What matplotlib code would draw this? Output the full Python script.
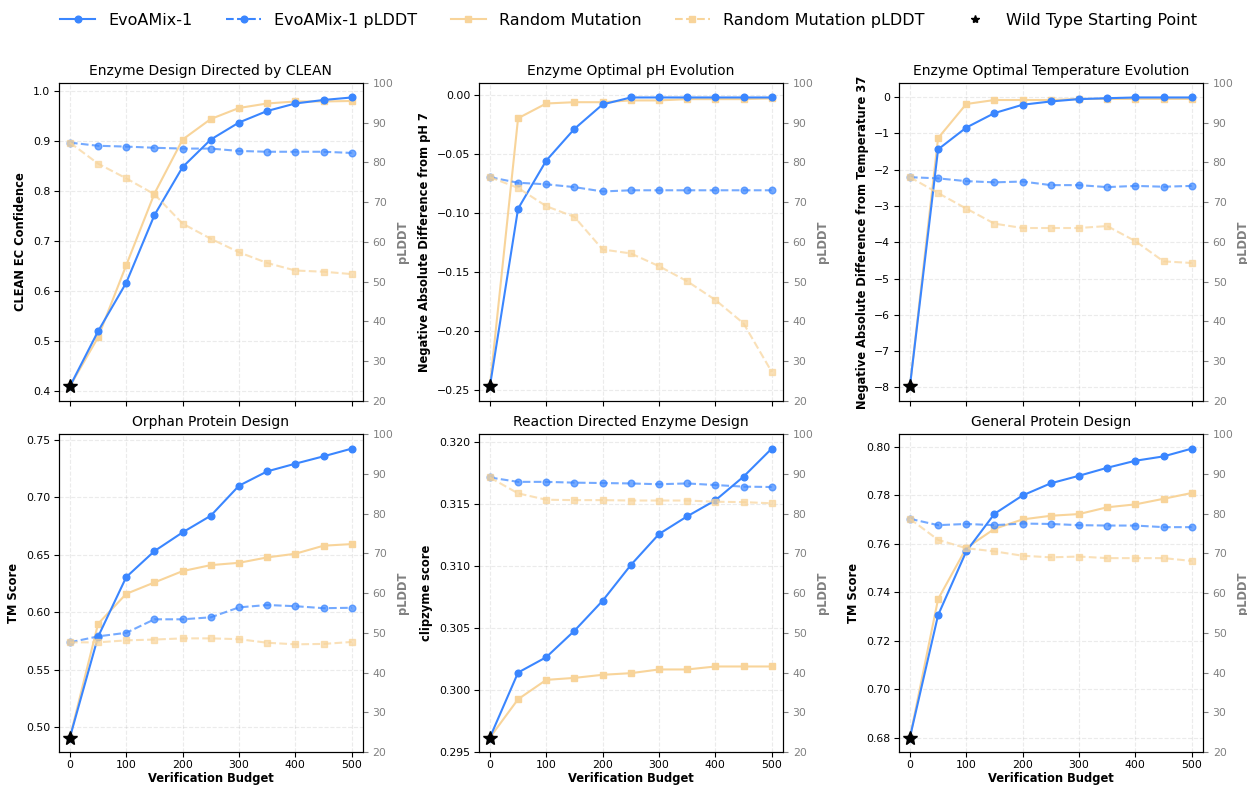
import numpy as np
import matplotlib
matplotlib.use("Agg")
import matplotlib.pyplot as plt
from matplotlib.lines import Line2D

# budget steps shared by every panel
budget = [0, 50, 100, 150, 200, 250, 300, 350, 400, 450, 500]

titles = ["Enzyme Design Directed by CLEAN", "Enzyme Optimal pH Evolution",
          "Enzyme Optimal Temperature Evolution", "Orphan Protein Design",
          "Reaction Directed Enzyme Design", "General Protein Design"]
ylabels = ["CLEAN EC Confidence", "Negative Absolute Difference from pH 7",
           "Negative Absolute Difference from Temperature 37", "TM Score",
           "clipzyme score", "TM Score"]

# EvoAMix-1 score per panel
evo_clean = [0.41, 0.52, 0.617, 0.752, 0.848, 0.903, 0.937, 0.960, 0.975, 0.982, 0.987]
evo_ph = [-0.2466, -0.096, -0.0552, -0.0283, -0.0076, -0.0017, -0.0017, -0.0017, -0.0017, -0.0017, -0.0017]
evo_temp = [-7.97, -1.44, -0.84, -0.44, -0.21, -0.12, -0.055, -0.03, -0.01, -0.01, -0.01]
evo_orphan = [0.491, 0.5787, 0.6307, 0.6533, 0.6696, 0.6841, 0.7102, 0.7227, 0.7294, 0.7358, 0.7425]
evo_reaction = [0.29616, 0.3014, 0.30264, 0.30477, 0.30719, 0.31007, 0.31257, 0.314, 0.31529, 0.3172, 0.31946]
evo_general = [0.68, 0.7305, 0.7568, 0.7723, 0.7799, 0.7849, 0.788, 0.7913, 0.7942, 0.796, 0.7992]

# Random mutation score per panel
rnd_clean = [0.41, 0.508, 0.652, 0.795, 0.903, 0.944, 0.966, 0.975, 0.979, 0.979, 0.98]
rnd_ph = [-0.2466, -0.0193, -0.0068, -0.0057, -0.0057, -0.0042, -0.0042, -0.0031, -0.0031, -0.0031, -0.0025]
rnd_temp = [-7.97, -1.13, -0.19, -0.08, -0.08, -0.08, -0.05, -0.05, -0.05, -0.05, -0.05]
rnd_orphan = [0.491, 0.590, 0.6161, 0.626, 0.6359, 0.6411, 0.6431, 0.6478, 0.651, 0.658, 0.6594]
rnd_reaction = [0.29616, 0.29925, 0.30081, 0.30097, 0.30122, 0.30135, 0.30165, 0.30165, 0.30189, 0.30189, 0.30189]
rnd_general = [0.68, 0.7371, 0.7582, 0.7661, 0.77, 0.7715, 0.7722, 0.775, 0.7762, 0.7785, 0.7809]

# pLDDT (right axis)
evo_plddt_clean = [85.0, 84.2, 84.0, 83.7, 83.5, 83.5, 82.9, 82.7, 82.7, 82.7, 82.4]
evo_plddt_ph = [76.3, 74.9, 74.5, 73.8, 72.7, 73.0, 73.0, 73.0, 73.0, 73.0, 73.0]
evo_plddt_temp = [76.3, 76.0, 75.3, 75.0, 75.2, 74.3, 74.3, 73.8, 74.1, 73.9, 74.1]
evo_plddt_orphan = [47.6, 49.1, 50.0, 53.4, 53.4, 53.9, 56.4, 57.0, 56.7, 56.2, 56.3]
evo_plddt_reaction = [89.1, 88.0, 88.0, 87.8, 87.7, 87.6, 87.4, 87.6, 87.2, 86.8, 86.7]
evo_plddt_general = [78.7, 77.1, 77.4, 77.1, 77.5, 77.4, 77.1, 77.0, 77.0, 76.6, 76.6]

rnd_plddt_clean = [85.0, 79.7, 76.0, 72.0, 64.6, 60.8, 57.4, 54.7, 52.8, 52.5, 51.9]
rnd_plddt_ph = [76.3, 73.6, 69.0, 66.3, 58.1, 57.1, 53.9, 50.1, 45.4, 39.5, 27.3]
rnd_plddt_temp = [76.3, 72.3, 68.4, 64.6, 63.5, 63.5, 63.5, 64.0, 60.2, 55.1, 54.7]
rnd_plddt_orphan = [47.6, 47.6, 48.1, 48.3, 48.6, 48.6, 48.4, 47.5, 47.1, 47.2, 47.7]
rnd_plddt_reaction = [89.1, 85.1, 83.5, 83.4, 83.4, 83.3, 83.3, 83.3, 83.0, 82.9, 82.6]
rnd_plddt_general = [78.7, 73.4, 71.3, 70.5, 69.4, 69.0, 69.2, 68.8, 68.8, 68.8, 68.1]

evo_scores = [evo_clean, evo_ph, evo_temp, evo_orphan, evo_reaction, evo_general]
rnd_scores = [rnd_clean, rnd_ph, rnd_temp, rnd_orphan, rnd_reaction, rnd_general]
evo_plddt = [evo_plddt_clean, evo_plddt_ph, evo_plddt_temp, evo_plddt_orphan, evo_plddt_reaction, evo_plddt_general]
rnd_plddt = [rnd_plddt_clean, rnd_plddt_ph, rnd_plddt_temp, rnd_plddt_orphan, rnd_plddt_reaction, rnd_plddt_general]

BLUE = '#3A86FF'
ORANGE = '#F8D49A'
LW = 1.5
MS = 4.8

fig, axes = plt.subplots(2, 3, figsize=(12.47, 7.87), dpi=100, sharex=True)
fig.subplots_adjust(left=0.047, right=0.9647, top=0.8945, bottom=0.0445,
                    wspace=0.38, hspace=0.105)

for i, ax in enumerate(axes.flat):
    ax.plot(budget, evo_scores[i], color=BLUE, marker='o', ms=MS, lw=LW, zorder=3)
    ax.plot(budget, rnd_scores[i], color=ORANGE, marker='s', ms=MS, lw=LW, zorder=2)
    ax.plot(budget[0], evo_scores[i][0], marker='*', color='black', ms=10, ls='none', zorder=5)
    ax.set_title(titles[i], fontsize=10)
    ax.set_ylabel(ylabels[i], fontsize=8.3, fontweight='bold')
    ax.tick_params(labelsize=7.8, pad=2.5)
    ax.grid(True, ls='--', alpha=0.25)
    ax.set_xlim(-20, 520)
    ax.set_xticks([0, 100, 200, 300, 400, 500])
    if i >= 3:
        ax.set_xlabel("Verification Budget", fontsize=8.3, fontweight='bold', labelpad=1)

    ax2 = ax.twinx()
    ax2.plot(budget, evo_plddt[i], color=BLUE, marker='o', ms=MS, lw=LW, ls='--', alpha=0.7)
    ax2.plot(budget, rnd_plddt[i], color=ORANGE, marker='s', ms=MS, lw=LW, ls='--', alpha=0.7)
    ax2.set_ylim(20, 100)
    ax2.set_ylabel("pLDDT", fontsize=8.3, fontweight='bold', color='gray', labelpad=1.5)
    ax2.tick_params(axis='y', labelsize=7.8, colors='gray')
    ax2.spines['right'].set_color('black')

handles = [
    Line2D([], [], color=BLUE, marker='o', ms=MS, lw=LW),
    Line2D([], [], color=BLUE, marker='o', ms=MS, lw=LW, ls='--'),
    Line2D([], [], color=ORANGE, marker='s', ms=MS, lw=LW),
    Line2D([], [], color=ORANGE, marker='s', ms=MS, lw=LW, ls='--'),
    Line2D([], [], color='black', marker='*', ms=6, ls='none'),
]
labels = ["EvoAMix-1", "EvoAMix-1 pLDDT", "Random Mutation",
          "Random Mutation pLDDT", "Wild Type Starting Point"]
fig.legend(handles, labels, loc='center', bbox_to_anchor=(0.504, 0.974), ncol=5,
           frameon=False, fontsize=11.5, handlelength=2.2, columnspacing=2.1)

fig.savefig("out.png", dpi=100)
